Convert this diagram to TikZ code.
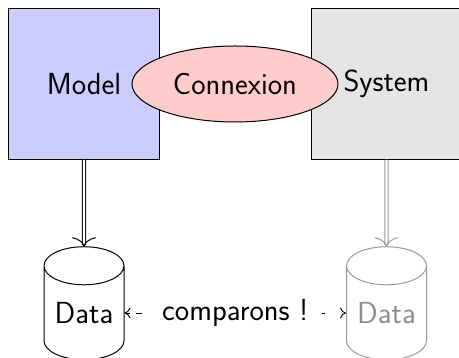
\documentclass[tikz,border=0pt]{standalone}
\usepackage{fontspec}
\usetikzlibrary{shapes.geometric,arrows.meta}
\begin{document}
\begin{tikzpicture}[x=1pt,y=1pt,
  font=\sffamily\fontsize{30.5}{36}\selectfont,
  every node/.style={inner sep=0pt, line width=1pt},
  bigbox/.style={rectangle, draw, minimum width=151pt, minimum height=151pt},
  conn/.style={ellipse, draw, fill=red!20, minimum width=206pt, minimum height=76pt},
  db/.style={cylinder, shape border rotate=90, draw, aspect=0.65, minimum width=80pt, minimum height=113pt},
  feed/.style={double, double distance=2.2pt, line width=1pt, -{To[length=9pt,width=24pt]}},
  cmp/.style={dash pattern=on 5pt off 6pt on 6pt off 176pt on 7pt off 40pt, line width=0.9pt, {To[length=6pt,width=11pt]}-{To[length=6pt,width=11pt]}},
  faint/.style={black!40, text=black!45}
]
\useasboundingbox (0,0) rectangle (459,358);
\node[bigbox, fill=blue!20] (model) at (84,274) {Model};
\node[bigbox, fill=black!10] (system) at (386.5,274) {System};
\node[conn] (connexion) at (235,274) {Connexion};
\node[db] (dataL) at (84,45) {Data};
\node[db, faint] (dataR) at (386.5,45) {Data};
\draw[feed] (model.south) -- (dataL.north);
\draw[feed, black!40] (system.south) -- (dataR.north);
\draw[cmp] (dataL.east) -- node[fill=white, inner xsep=14pt, inner ysep=2pt] (cmpl) {comparons !} (dataR.west);
\end{tikzpicture}
\end{document}
